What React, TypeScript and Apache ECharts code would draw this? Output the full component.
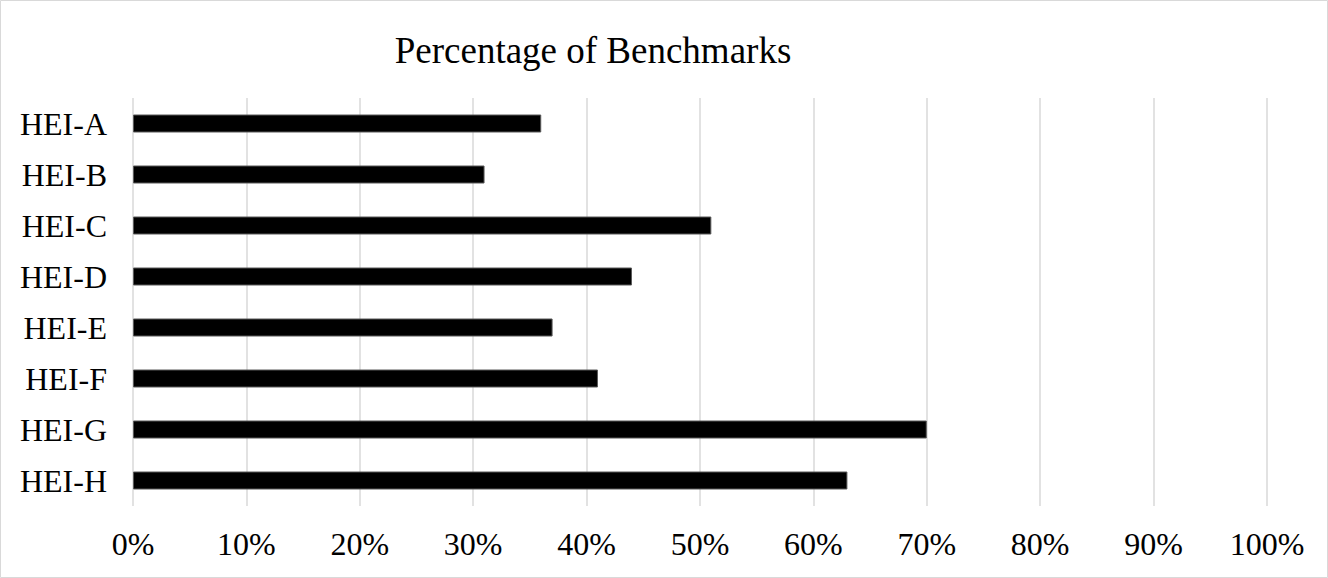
import React, { useEffect, useRef } from "react";
import * as echarts from "echarts";

const categories = ["HEI-A", "HEI-B", "HEI-C", "HEI-D", "HEI-E", "HEI-F", "HEI-G", "HEI-H"];
const percentages = [36, 31, 51, 44, 37, 41, 70, 63];
const titleText = "Percentage of Benchmarks";

export default function App() {
  const ref = useRef<HTMLDivElement>(null);

  useEffect(() => {
    if (!ref.current) return;
    const chart = echarts.init(ref.current, null, { renderer: "svg" });
    const font = "'Liberation Serif', 'Times New Roman', serif";
    chart.setOption({
      animation: false,
      backgroundColor: "#ffffff",
      textStyle: { fontFamily: font },
      title: {
        text: titleText,
        left: 588,
        top: 27,
        textAlign: "center",
        textStyle: { fontFamily: font, fontSize: 37, fontWeight: "normal", color: "#000000" },
      },
      graphic: [
        {
          type: "rect",
          shape: { x: 0.5, y: 0.5, width: 1327, height: 577 },
          style: { fill: "none", stroke: "#d9d9d9", lineWidth: 1 },
          silent: true,
        },
      ],
      grid: { left: 133, right: 61, top: 98, bottom: 72, containLabel: false },
      xAxis: {
        type: "value",
        min: 0,
        max: 100,
        interval: 10,
        axisLine: { show: false },
        axisTick: { show: false },
        axisLabel: {
          formatter: "{value}%",
          fontFamily: font,
          fontSize: 32,
          color: "#000000",
          margin: 22,
        },
        splitLine: { show: true, lineStyle: { color: "#d9d9d9", width: 1.5 } },
      },
      yAxis: {
        type: "category",
        data: categories,
        inverse: true,
        axisLine: { show: false },
        axisTick: { show: false },
        axisLabel: { fontFamily: font, fontSize: 32, color: "#000000", margin: 26 },
        splitLine: { show: false },
      },
      series: [
        {
          type: "bar",
          data: percentages,
          barWidth: 18,
          itemStyle: { color: "#000000", borderColor: "#595959", borderWidth: 1 },
        },
      ],
    });
    return () => chart.dispose();
  }, []);

  return (
    <div
      ref={ref}
      style={{ position: "fixed", left: 0, top: 0, width: 1328, height: 578 }}
    />
  );
}
